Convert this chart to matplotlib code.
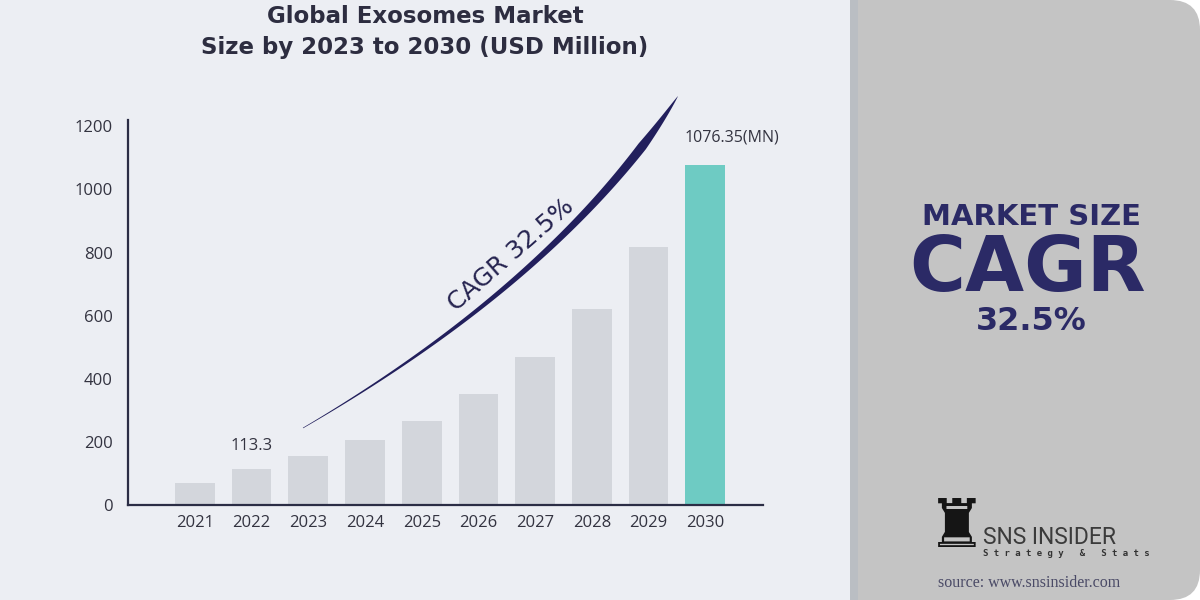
import numpy as np
import matplotlib
matplotlib.use("Agg")
import matplotlib.pyplot as plt
from matplotlib.patches import Rectangle, FancyBboxPatch, Polygon

# ---- data ----
years = ["2021", "2022", "2023", "2024", "2025", "2026", "2027", "2028", "2029", "2030"]
values = [70, 113.3, 156, 205, 267, 352, 470, 622, 819, 1076.35]
yticks = [0, 200, 400, 600, 800, 1000, 1200]
label_2022 = "113.3"
label_2030 = "1076.35(MN)"
title = "Global Exosomes Market\nSize by 2023 to 2030 (USD Million)"
cagr_label = "CAGR 32.5%"
panel_top = "MARKET SIZE"
panel_mid = "CAGR"
panel_bot = "32.5%"

W, H = 1200, 600
fig = plt.figure(figsize=(12, 6), dpi=100, facecolor="white")

# background panels (pixel coordinates)
bg = fig.add_axes([0, 0, 1, 1], zorder=0)
bg.set_xlim(0, W); bg.set_ylim(H, 0); bg.axis("off")
bg.add_patch(Rectangle((0, 0), 850, H, color="#eceef3", lw=0))
bg.add_patch(FancyBboxPatch((850, 0), 350, H, boxstyle="round,pad=0,rounding_size=30",
                            color="#c4c4c4", lw=0))
bg.add_patch(Rectangle((850, 0), 120, H, color="#c4c4c4", lw=0))
bg.add_patch(Rectangle((850, 0), 8, H, color="#babec3", lw=0))

# main bar chart
ax = fig.add_axes([128 / W, 95 / H, 635 / W, 385 / H], zorder=1)
ax.patch.set_alpha(0)
x = np.arange(len(years))
colors = ["#d3d6dc"] * (len(years) - 1) + ["#6ecbc3"]
ax.bar(x, values, width=0.7, color=colors, zorder=2)
ax.set_xlim(-1.18, 10.02)
ax.set_ylim(0, 1220)
ax.set_xticks(x)
ax.set_xticklabels(years)
ax.set_yticks(yticks)
ax.set_yticklabels([str(v) for v in yticks])
for s in ["top", "right"]:
    ax.spines[s].set_visible(False)
for s in ["left", "bottom"]:
    ax.spines[s].set_color("#2b2d45")
    ax.spines[s].set_linewidth(1.6)
ax.tick_params(axis="both", length=0, labelsize=12, labelcolor="#333340")
ax.tick_params(axis="y", pad=11)
ax.tick_params(axis="x", pad=7)
for lab in ax.get_xticklabels() + ax.get_yticklabels():
    lab.set_family("Open Sans")

ax.annotate(label_2022, (x[1], values[1]), xytext=(0, 11), textcoords="offset points",
            ha="center", va="bottom", fontsize=12, color="#333340", family="Open Sans")
ax.annotate(label_2030, (x[-1], values[-1]), xytext=(19, 14), textcoords="offset points",
            ha="center", va="bottom", fontsize=11.5, color="#333340", family="Open Sans")

# overlay for decorations
ov = fig.add_axes([0, 0, 1, 1], zorder=3)
ov.set_xlim(0, W); ov.set_ylim(H, 0); ov.axis("off"); ov.patch.set_alpha(0)

# title
ov.text(425, 32, title, ha="center", va="center", fontsize=16.5, fontweight="bold",
        color="#2d2d40", linespacing=1.45, family="DejaVu Sans")

# swoosh arrow (quadratic bezier)
P0 = np.array([303.0, 428.0]); P1 = np.array([560.0, 278.0]); P2 = np.array([678.0, 96.0])
t = np.linspace(0, 1, 300)[:, None]
B = (1 - t) ** 2 * P0 + 2 * (1 - t) * t * P1 + t ** 2 * P2
D = 2 * (1 - t) * (P1 - P0) + 2 * t * (P2 - P1)
D = D / np.linalg.norm(D, axis=1, keepdims=True)
N = np.column_stack([-D[:, 1], D[:, 0]])
tt = t[:, 0]
hw = np.where(tt < 0.86, 0.3 + 4.3 * (tt / 0.86) ** 1.1, 4.6 * ((1 - tt) / 0.14) ** 0.8)
left = B + N * hw[:, None]
right = B - N * hw[:, None]
poly = np.vstack([left, right[::-1]])
ov.add_patch(Polygon(poly, closed=True, color="#221f5c", lw=0))

ov.text(511, 255, cagr_label, ha="center", va="center", rotation=41, fontsize=18,
        color="#262450", family="DejaVu Sans", rotation_mode="anchor")

# right panel text
navy = "#2b2a66"
ov.text(1031, 217, panel_top, ha="center", va="center", fontsize=21, fontweight="bold", color=navy)
ov.text(1028, 270, panel_mid, ha="center", va="center", fontsize=55, fontweight="bold", color=navy)
ov.text(1031, 321, panel_bot, ha="center", va="center", fontsize=23, fontweight="bold", color=navy)

# logo
ov.text(957, 528, "\u265C", ha="center", va="center", fontsize=48, color="#151515",
        family="DejaVu Sans")
ov.text(983, 537, "SNS INSIDER", ha="left", va="center", fontsize=16.5, color="#3b3b3b",
        family="Roboto")
ov.text(983, 554, "S t r a t e g y   &   S t a t s", ha="left", va="center", fontsize=6.5,
        color="#333333", family="DejaVu Sans Mono", fontweight="bold")
ov.text(1029, 583, "source: www.snsinsider.com", ha="center", va="center", fontsize=11.5,
        color="#4a4a66", family="Liberation Serif")

fig.savefig("out.png", dpi=100, facecolor=fig.get_facecolor())
